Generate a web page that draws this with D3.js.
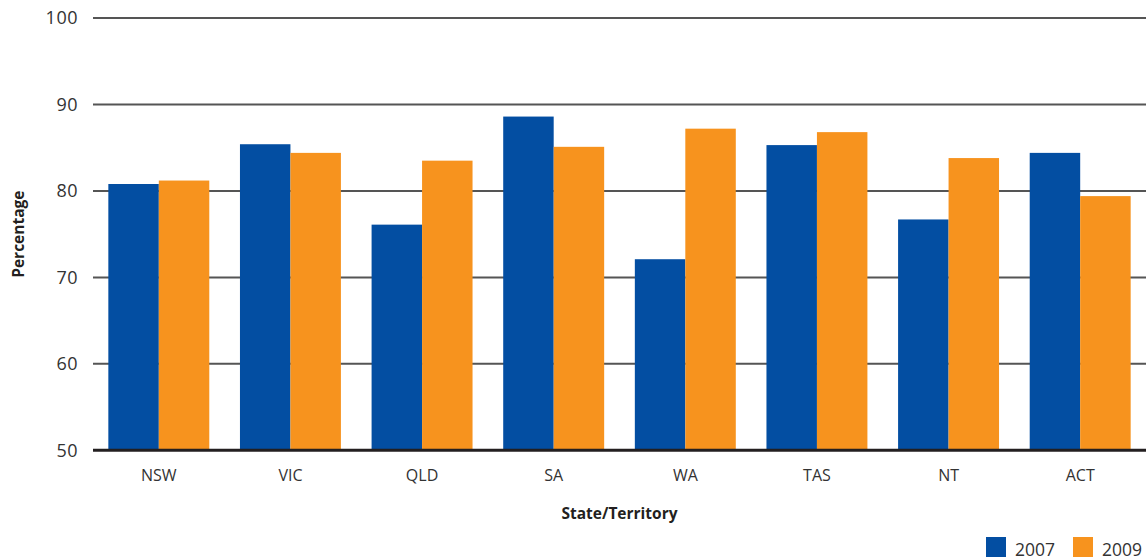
<!DOCTYPE html>
<html>
<head>
<meta charset="utf-8">
<script src="https://cdn.jsdelivr.net/npm/d3@7"></script>
<style>
  html, body { margin: 0; padding: 0; background: #fff; }
  svg { display: block; font-family: "Open Sans", "Noto Sans", sans-serif; }
</style>
</head>
<body>
<svg id="chart" width="1146" height="560"></svg>
<script>
// Categories and series
const states = ["NSW", "VIC", "QLD", "SA", "WA", "TAS", "NT", "ACT"];
const years = ["2007", "2009"];
const values2007 = [80.8, 85.4, 76.1, 88.6, 72.1, 85.3, 76.7, 84.4];
const values2009 = [81.2, 84.4, 83.5, 85.1, 87.2, 86.8, 83.8, 79.4];
const yTicks = [50, 60, 70, 80, 90, 100];
const colors = ["#034ea2", "#f7931e"];

const svg = d3.select("#chart");
const margin = { left: 93, right: 0, top: 18, bottom: 110 };
const W = 1146, H = 560;
const plotBottom = 450.3;
const fontFam = "'Open Sans', 'Noto Sans', sans-serif";

const x = d3.scaleBand()
  .domain(states)
  .range([margin.left, W - margin.right])
  .paddingInner(0.233)
  .paddingOuter(0.1165);

const x1 = d3.scaleBand()
  .domain(years)
  .range([0, x.bandwidth()])
  .padding(0);

const y = d3.scaleLinear()
  .domain([50, 100])
  .range([plotBottom, margin.top]);

const seriesByYear = { "2007": values2007, "2009": values2009 };

// Gridlines
svg.append("g")
  .selectAll("line")
  .data(yTicks.filter(t => t > 50))
  .join("line")
  .attr("x1", margin.left)
  .attr("x2", W)
  .attr("y1", d => y(d))
  .attr("y2", d => y(d))
  .attr("stroke", "#555")
  .attr("stroke-width", 2);

// Y tick labels
const yAxis = svg.append("g")
  .attr("transform", `translate(${margin.left - 15},0)`)
  .call(d3.axisLeft(y).tickValues(yTicks).tickSize(0).tickPadding(0));
yAxis.select(".domain").remove();
yAxis.attr("font-size", 18).attr("font-family", fontFam);
yAxis.selectAll("text")
  .attr("fill", "#333")
  .attr("letter-spacing", 0.5);

// Bars
const groups = svg.append("g")
  .selectAll("g")
  .data(states)
  .join("g")
  .attr("transform", d => `translate(${x(d)},0)`);

groups.selectAll("rect")
  .data((d, i) => years.map((yr, k) => ({ yr, k, v: seriesByYear[yr][i] })))
  .join("rect")
  .attr("x", d => x1(d.yr))
  .attr("width", x1.bandwidth())
  .attr("y", d => y(d.v))
  .attr("height", d => y(50) - y(d.v))
  .attr("fill", d => colors[d.k]);

// Baseline
svg.append("line")
  .attr("x1", margin.left)
  .attr("x2", W)
  .attr("y1", y(50))
  .attr("y2", y(50))
  .attr("stroke", "#231f20")
  .attr("stroke-width", 3);

// Category labels
const xAxis = svg.append("g")
  .attr("transform", `translate(0,${y(50) + 19})`)
  .call(d3.axisBottom(x).tickSize(0).tickPadding(0));
xAxis.select(".domain").remove();
xAxis.attr("font-size", 16).attr("font-family", fontFam);
xAxis.selectAll("text").attr("fill", "#333");

// Axis titles
svg.append("text")
  .attr("x", (margin.left + W) / 2)
  .attr("y", 519)
  .attr("text-anchor", "middle")
  .attr("font-size", 15.5)
  .attr("font-weight", "bold")
  .attr("fill", "#231f20")
  .text("State/Territory");

svg.append("text")
  .attr("transform", `translate(24,${(margin.top + plotBottom) / 2}) rotate(-90)`)
  .attr("text-anchor", "middle")
  .attr("font-size", 15.5)
  .attr("font-weight", "bold")
  .attr("fill", "#231f20")
  .text("Percentage");

// Legend
const legend = svg.append("g")
  .selectAll("g")
  .data(years)
  .join("g")
  .attr("transform", (d, i) => `translate(${986 + i * 87},537)`);
legend.append("rect")
  .attr("width", 20)
  .attr("height", 20)
  .attr("fill", (d, i) => colors[i]);
legend.append("text")
  .attr("x", 29)
  .attr("y", 18.5)
  .attr("font-size", 17.5)
  .attr("fill", "#333")
  .text(d => d);
</script>
</body>
</html>
